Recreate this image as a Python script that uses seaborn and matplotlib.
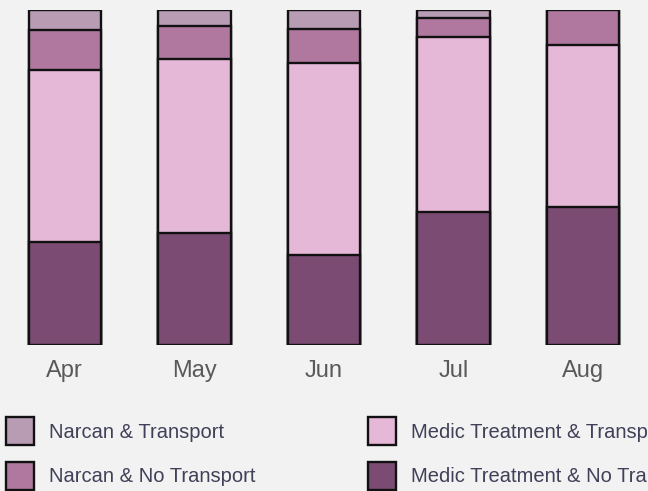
import matplotlib
matplotlib.use("Agg")
import matplotlib.pyplot as plt
from matplotlib.patches import Patch
import seaborn as sns
import pandas as pd

# share of outcomes per month (percent)
months = ["Apr", "May", "Jun", "Jul", "Aug"]
medic_no_transport = [30.7, 33.4, 26.9, 39.7, 41.2]
medic_transport = [51.6, 52.2, 57.3, 52.2, 48.4]
narcan_no_transport = [11.9, 9.6, 10.1, 5.7, 10.4]
narcan_transport = [5.8, 4.8, 5.7, 2.4, 0.0]

series = ["Medic Treatment & No Transport", "Medic Treatment & Transport",
          "Narcan & No Transport", "Narcan & Transport"]
colors = {"Medic Treatment & No Transport": "#7B4B74",
          "Medic Treatment & Transport": "#E6B8D8",
          "Narcan & No Transport": "#B0789E",
          "Narcan & Transport": "#B89CB4"}

df = pd.DataFrame({"month": months,
                   series[0]: medic_no_transport,
                   series[1]: medic_transport,
                   series[2]: narcan_no_transport,
                   series[3]: narcan_transport})
cum = df[series].cumsum(axis=1)
cum["month"] = df["month"]

sns.set_style("white")
plt.rcParams["font.family"] = ["Liberation Sans", "DejaVu Sans"]

bg = "#F2F2F2"
fig = plt.figure(figsize=(6.48, 4.91), dpi=100, facecolor=bg)
ax = fig.add_axes([0.0, 0.297, 1.0, 0.682])
ax.set_facecolor(bg)

# stacked bars: draw cumulative totals from the top layer down
for s in reversed(series):
    sns.barplot(data=cum, x="month", y=s, color=colors[s], width=0.56,
                saturation=1, edgecolor="#111111", linewidth=1.7, ax=ax)

ax.set_xlim(-0.5, 4.5)
ax.set_ylim(0, 100)
ax.set_xlabel("")
ax.set_ylabel("")
ax.set_yticks([])
ax.tick_params(axis="x", length=0, pad=11, labelsize=17, labelcolor="#595959")
for sp in ax.spines.values():
    sp.set_visible(False)

handles = [Patch(facecolor=colors[s], edgecolor="#111111", linewidth=1.7, label=s)
           for s in ["Narcan & Transport", "Narcan & No Transport",
                     "Medic Treatment & Transport", "Medic Treatment & No Transport"]]
fig.legend(handles=handles, ncol=2, loc="upper left",
           bbox_to_anchor=(0.010, 1 - 417 / 491), frameon=False,
           fontsize=14.5, labelcolor="#404058", handlelength=1.39, handleheight=1.77,
           handletextpad=0.72, labelspacing=0.82, columnspacing=5.6, borderpad=0,
           borderaxespad=0)

fig.savefig("out.png", dpi=100, facecolor=bg)
